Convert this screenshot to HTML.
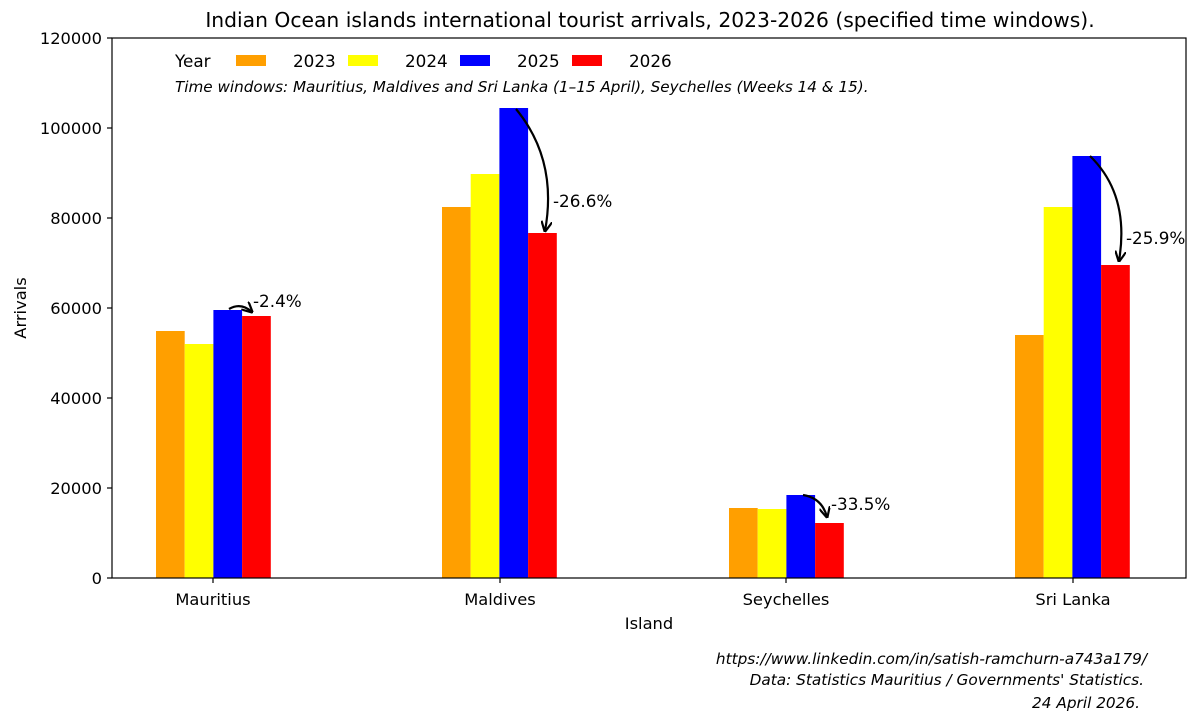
<!DOCTYPE html>
<html><head><meta charset="utf-8"><style>body{margin:0;background:#fff}svg{display:block}text{font-family:"DejaVu Sans","Liberation Sans",sans-serif;fill:#000}</style></head>
<body>
<svg width="1200" height="723" viewBox="0 0 1200 723" xmlns="http://www.w3.org/2000/svg">
<defs><marker id="ah" viewBox="0 0 10 10" refX="9" refY="5" markerWidth="5" markerHeight="5" orient="auto-start-reverse"><path d="M0,0 L10,5 L0,10" fill="none" stroke="#000" stroke-width="2"/></marker></defs>
<text x="650" y="27" font-size="20.3" text-anchor="middle">Indian Ocean islands international tourist arrivals, 2023-2026 (specified time windows).</text>
<g>
<rect x="156" y="331" width="28.7" height="247" fill="#ff9f00"/>
<rect x="184.7" y="344" width="28.7" height="234" fill="#ffff00"/>
<rect x="213.4" y="310" width="28.7" height="268" fill="#0000ff"/>
<rect x="242.1" y="316" width="28.7" height="262" fill="#ff0000"/>
<rect x="442" y="207" width="28.7" height="371" fill="#ff9f00"/>
<rect x="470.7" y="174" width="28.7" height="404" fill="#ffff00"/>
<rect x="499.4" y="108" width="28.7" height="470" fill="#0000ff"/>
<rect x="528.1" y="233" width="28.7" height="345" fill="#ff0000"/>
<rect x="729" y="508" width="28.7" height="70" fill="#ff9f00"/>
<rect x="757.7" y="509" width="28.7" height="69" fill="#ffff00"/>
<rect x="786.4" y="495" width="28.7" height="83" fill="#0000ff"/>
<rect x="815.1" y="523" width="28.7" height="55" fill="#ff0000"/>
<rect x="1015" y="335" width="28.7" height="243" fill="#ff9f00"/>
<rect x="1043.7" y="207" width="28.7" height="371" fill="#ffff00"/>
<rect x="1072.4" y="156" width="28.7" height="422" fill="#0000ff"/>
<rect x="1101.1" y="265" width="28.7" height="313" fill="#ff0000"/>
</g>
<rect x="112" y="38" width="1074" height="540" fill="none" stroke="#000" stroke-width="1.2"/>
<g stroke="#000" stroke-width="1.2">
<line x1="107" y1="578" x2="112" y2="578"/><line x1="107" y1="488" x2="112" y2="488"/><line x1="107" y1="398" x2="112" y2="398"/><line x1="107" y1="308" x2="112" y2="308"/><line x1="107" y1="218" x2="112" y2="218"/><line x1="107" y1="128" x2="112" y2="128"/><line x1="107" y1="38" x2="112" y2="38"/>
<line x1="213" y1="578" x2="213" y2="583"/><line x1="500" y1="578" x2="500" y2="583"/><line x1="786" y1="578" x2="786" y2="583"/><line x1="1073" y1="578" x2="1073" y2="583"/>
</g>
<g font-size="16.3" text-anchor="end">
<text x="102" y="584">0</text><text x="102" y="494">20000</text><text x="102" y="404">40000</text><text x="102" y="314">60000</text><text x="102" y="224">80000</text><text x="102" y="134">100000</text><text x="102" y="44">120000</text>
</g>
<g font-size="16.3" text-anchor="middle">
<text x="213" y="605">Mauritius</text><text x="500" y="605">Maldives</text><text x="786" y="605">Seychelles</text><text x="1073" y="605">Sri Lanka</text>
<text x="649" y="629">Island</text>
</g>
<text transform="translate(26,308) rotate(-90)" font-size="16.3" text-anchor="middle">Arrivals</text>
<text x="175" y="67" font-size="16.8">Year</text>
<rect x="236" y="55" width="30" height="11" fill="#ff9f00"/><text x="293" y="67" font-size="16.8">2023</text>
<rect x="348" y="55" width="30" height="11" fill="#ffff00"/><text x="405" y="67" font-size="16.8">2024</text>
<rect x="460" y="55" width="30" height="11" fill="#0000ff"/><text x="517" y="67" font-size="16.8">2025</text>
<rect x="572" y="55" width="30" height="11" fill="#ff0000"/><text x="629" y="67" font-size="16.8">2026</text>
<text x="175" y="92" font-size="15.2" font-style="italic">Time windows: Mauritius, Maldives and Sri Lanka (1–15 April), Seychelles (Weeks 14 &amp; 15).</text>
<g fill="none" stroke="#000" stroke-width="2.2" marker-end="url(#ah)">
<path d="M229,309 Q241,302 252,312"/>
<path d="M516,109 Q558,160 545,231"/>
<path d="M803,495 Q822,498 827,517"/>
<path d="M1090,156 Q1130,195 1119,261"/>
</g>
<g font-size="16.8">
<text x="253" y="307">-2.4%</text>
<text x="553" y="207">-26.6%</text>
<text x="831" y="510">-33.5%</text>
<text x="1126" y="244">-25.9%</text>
</g>
<g font-size="15.3" font-style="italic" text-anchor="end">
<text x="1147" y="664">https://www.linkedin.com/in/satish-ramchurn-a743a179/</text>
<text x="1144" y="685">Data: Statistics Mauritius / Governments' Statistics.</text>
<text x="1140" y="708">24 April 2026.</text>
</g>
</svg>
</body></html>
